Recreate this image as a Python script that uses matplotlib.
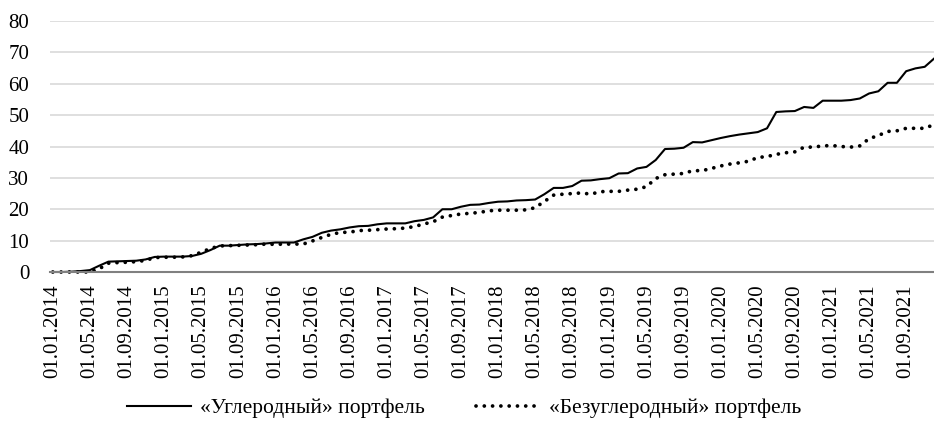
import matplotlib.pyplot as plt
import numpy as np
import pandas as pd

# monthly dates, Jan 2014 - Dec 2021
dates = pd.date_range("2014-01-01", "2021-12-01", freq="MS")
tick_labels = [d.strftime("%d.%m.%Y") for d in dates]

carbon = [0, 0, 0.1, 0.3, 0.6, 2.0, 3.3, 3.4, 3.5, 3.6, 4.0, 4.8, 4.9, 4.9, 4.9, 5.1,
          5.8, 7.0, 8.4, 8.4, 8.6, 8.8, 8.9, 9.1, 9.4, 9.4, 9.4, 10.4, 11.2, 12.5, 13.2, 13.6,
          14.2, 14.6, 14.7, 15.2, 15.5, 15.5, 15.5, 16.2, 16.6, 17.4, 20.0, 20.0, 20.8, 21.4, 21.5, 22.0,
          22.4, 22.5, 22.8, 22.9, 23.1, 24.8, 26.8, 26.8, 27.4, 29.1, 29.2, 29.6, 29.9, 31.4, 31.5, 33.0,
          33.5, 35.7, 39.2, 39.3, 39.6, 41.4, 41.3, 42.0, 42.7, 43.3, 43.8, 44.2, 44.6, 45.8, 51.0, 51.2,
          51.3, 52.6, 52.3, 54.6, 54.6, 54.6, 54.8, 55.3, 56.9, 57.6, 60.3, 60.3, 64.0, 64.9, 65.4, 68.0]

carbon_free = [0, 0, 0, 0, 0, 1.0, 2.8, 3.0, 3.1, 3.3, 3.7, 4.6, 4.7, 4.7, 4.8, 5.2,
               6.3, 7.5, 8.3, 8.4, 8.5, 8.6, 8.7, 8.9, 8.8, 8.9, 8.9, 8.9, 9.9, 11.0, 12.0, 12.6,
               12.7, 13.2, 13.3, 13.5, 13.7, 13.8, 14.0, 14.5, 15.3, 16.0, 17.5, 18.0, 18.5, 18.7, 19.0, 19.5,
               19.7, 19.7, 19.7, 19.8, 20.5, 22.5, 24.5, 24.8, 25.0, 25.2, 24.8, 25.6, 25.7, 25.7, 26.1, 26.4,
               27.2, 29.8, 31.0, 31.2, 31.4, 32.3, 32.3, 33.0, 33.8, 34.4, 34.8, 35.3, 36.5, 36.8, 37.5, 38.0,
               38.3, 39.8, 39.8, 40.2, 40.3, 40.0, 39.8, 40.2, 42.5, 43.5, 44.8, 45.0, 45.8, 45.8, 45.8, 47.0]

labels = ["«Углеродный» портфель", "«Безуглеродный» портфель"]

plt.rcParams['font.family'] = ['Liberation Serif', 'DejaVu Serif']

fig = plt.figure(figsize=(9.34, 4.29), dpi=100)
ax = fig.add_axes([50 / 934, 1 - 272 / 429, 1 - 50 / 934, (272 - 21) / 429])

x = np.arange(len(dates))
ax.plot(x, carbon, color='black', lw=1.5, label=labels[0], clip_on=False)
ax.plot(x, carbon_free, color='black', lw=2.7, linestyle=(0, (0.01, 2.2)),
        dash_capstyle='round', label=labels[1], clip_on=False)

ax.set_xlim(-0.3, len(dates) - 1)
ax.set_ylim(0, 80)
ax.set_yticks(range(0, 81, 10))
ax.set_xticks(x[::4])
ax.set_xticklabels(tick_labels[::4], rotation=90)
ax.tick_params(axis='both', length=0, labelsize=15)
ax.tick_params(axis='y', pad=15)
ax.tick_params(axis='x', pad=9)
ax.grid(axis='y', color='#d9d9d9', lw=1.2)
ax.set_axisbelow(True)
for s in ['top', 'right', 'left']:
    ax.spines[s].set_visible(False)
ax.spines['bottom'].set_color('#808080')
ax.spines['bottom'].set_linewidth(1.5)

fig.legend(loc='lower center', bbox_to_anchor=(0.497, -0.02), ncol=2, frameon=False,
           fontsize=15.5, handlelength=3.0, handletextpad=0.4, columnspacing=2.4)

fig.savefig('out.png', dpi=100)
